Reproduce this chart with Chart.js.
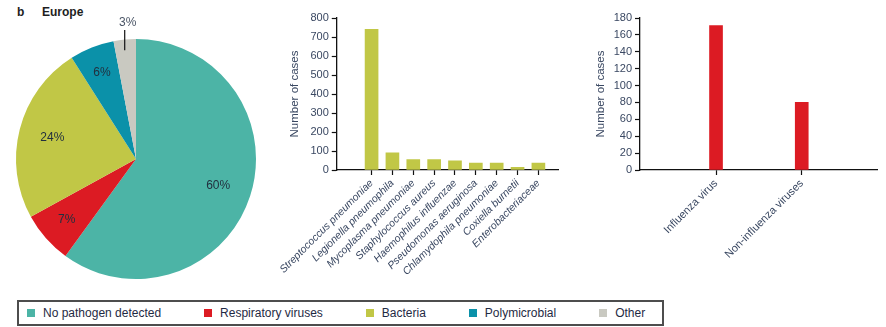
<!DOCTYPE html>
<html>
<head>
<meta charset="utf-8">
<script src="https://cdn.jsdelivr.net/npm/chart.js@4/dist/chart.umd.min.js"></script>
<style>
  html, body { margin: 0; padding: 0; background: #fff; }
  body { width: 886px; height: 327px; position: relative; overflow: hidden;
         font-family: 'Liberation Sans', Arial, sans-serif; }
  .box { position: absolute; }
  .panel { position: absolute; top: 5px; font: bold 12px 'Liberation Sans', Arial, sans-serif; color: #1e1e1e; }
  #legend { position: absolute; left: 17px; top: 300px; width: 647px; height: 26px;
            box-sizing: border-box; border: 2px solid #4d4d4d;
            display: flex; align-items: center; padding-left: 8px; gap: 43px;
            font: 12px 'Liberation Sans', Arial, sans-serif; color: #1f2a44; }
  #legend .item { display: flex; align-items: center; white-space: nowrap; }
  #legend .sw { width: 8px; height: 8px; margin-right: 8px; }
</style>
</head>
<body>
<div class="panel" style="left:17px">b</div>
<div class="panel" style="left:42px">Europe</div>

<div class="box" style="left:0;top:0"><canvas id="pie" width="272" height="300"></canvas></div>
<div class="box" style="left:270px;top:0"><canvas id="bacteria" width="290" height="300"></canvas></div>
<div class="box" style="left:580px;top:0"><canvas id="viruses" width="300" height="300"></canvas></div>
<div id="legend"></div>

<script>
// Aetiology of pneumonia, Europe
const pathogenGroups = ['No pathogen detected', 'Respiratory viruses', 'Bacteria', 'Polymicrobial', 'Other'];
const groupShares = [60, 7, 24, 6, 3];
const groupColors = ['#4cb4a6', '#dc1b23', '#c1c746', '#0b91a9', '#c9c9c1'];

const bacteriaNames = ['Streptococcus pneumoniae', 'Legionella pneumophila', 'Mycoplasma pneumoniae',
  'Staphylococcus aureus', 'Haemophilus influenzae', 'Pseudomonas aeruginosa',
  'Chlamydophila pneumoniae', 'Coxiella burnetii', 'Enterobacteriaceae'];
const bacteriaCases = [740, 90, 55, 55, 48, 36, 36, 14, 36];
const bacteriaTicks = [0, 100, 200, 300, 400, 500, 600, 700, 800];

const virusNames = ['Influenza virus', 'Non-influenza viruses'];
const virusCases = [171, 80];
const virusTicks = [0, 20, 40, 60, 80, 100, 120, 140, 160, 180];

const inkDark = '#22303f';
const tickInk = '#3a4862';

// percentage labels on the slices; small slices get a leader line outside
const sliceLabels = {
  id: 'sliceLabels',
  afterDatasetsDraw(chart) {
    const ctx = chart.ctx;
    const meta = chart.getDatasetMeta(0);
    ctx.save();
    ctx.font = '12px "Liberation Sans", Arial, sans-serif';
    ctx.textAlign = 'center';
    ctx.textBaseline = 'middle';
    meta.data.forEach((arc, i) => {
      const p = arc.getProps(['x', 'y', 'startAngle', 'endAngle', 'outerRadius'], true);
      const mid = (p.startAngle + p.endAngle) / 2;
      const text = groupShares[i] + '%';
      if (groupShares[i] < 5) {
        const lx = p.x + Math.cos(mid) * p.outerRadius;
        const y0 = p.y + Math.sin(mid) * p.outerRadius * 0.91;
        const y1 = p.y - p.outerRadius - 9;
        ctx.strokeStyle = '#111';
        ctx.lineWidth = 1.2;
        ctx.beginPath();
        ctx.moveTo(lx, y0);
        ctx.lineTo(lx, y1);
        ctx.stroke();
        ctx.fillStyle = '#4a5566';
        ctx.fillText(text, lx + 3, y1 - 7);
      } else {
        const f = groupShares[i] < 10 ? 0.77 : 0.72;
        ctx.fillStyle = inkDark;
        ctx.fillText(text, p.x + Math.cos(mid) * p.outerRadius * f, p.y + Math.sin(mid) * p.outerRadius * f);
      }
    });
    ctx.restore();
  }
};

new Chart(document.getElementById('pie'), {
  type: 'pie',
  data: {
    labels: pathogenGroups,
    datasets: [{ data: groupShares, backgroundColor: groupColors, borderWidth: 0, hoverOffset: 0, radius: 120 }]
  },
  options: {
    responsive: false,
    animation: false,
    layout: { padding: { left: 16, right: 16, top: 39, bottom: 21 } },
    plugins: { legend: { display: false }, tooltip: { enabled: false } }
  },
  plugins: [sliceLabels]
});

function caseBars(canvasId, names, values, ticks, color, frame) {
  return new Chart(document.getElementById(canvasId), {
    type: 'bar',
    data: {
      datasets: [{
        data: values.map((v, i) => ({ x: i, y: v })),
        backgroundColor: color,
        borderWidth: 0,
        barThickness: 13
      }]
    },
    options: {
      responsive: false,
      animation: false,
      layout: { padding: { left: frame.padLeft, right: frame.padRight, top: 18, bottom: 0 } },
      plugins: { legend: { display: false }, tooltip: { enabled: false } },
      scales: {
        x: {
          type: 'linear',
          offset: false,
          min: frame.xMin,
          max: frame.xMax,
          afterBuildTicks: s => { s.ticks = names.map((_, i) => ({ value: i })); },
          afterFit: s => { s.height = 130; },
          grid: { offset: false, drawOnChartArea: false, drawTicks: true, tickLength: 5, tickColor: '#111', tickWidth: 1.2 },
          border: { display: true, color: '#111', width: 1.3 },
          ticks: {
            autoSkip: false,
            minRotation: 45,
            maxRotation: 45,
            padding: 2,
            color: tickInk,
            font: { family: "'Liberation Sans', Arial, sans-serif", size: frame.labelSize, style: frame.labelStyle },
            callback: v => names[v]
          }
        },
        y: {
          min: ticks[0],
          max: ticks[ticks.length - 1],
          afterBuildTicks: s => { s.ticks = ticks.map(t => ({ value: t })); },
          afterFit: s => { s.width = frame.yWidth; },
          grid: { drawOnChartArea: false, drawTicks: true, tickLength: 5, tickColor: '#111', tickWidth: 1.2 },
          border: { display: true, color: '#111', width: 1.3 },
          ticks: {
            padding: 3,
            color: tickInk,
            font: { family: "'Liberation Sans', Arial, sans-serif", size: 11 }
          },
          title: {
            display: true,
            text: 'Number of cases',
            color: tickInk,
            padding: { top: 4, bottom: 0 },
            font: { family: "'Liberation Sans', Arial, sans-serif", size: 11.5 }
          }
        }
      }
    }
  });
}

caseBars('bacteria', bacteriaNames, bacteriaCases, bacteriaTicks, groupColors[2],
  { padLeft: 8, padRight: 2, yWidth: 53, xMin: -1.67, xMax: 8.94, labelSize: 10.5, labelStyle: 'italic' });
caseBars('viruses', virusNames, virusCases, virusTicks, groupColors[1],
  { padLeft: 10, padRight: 3, yWidth: 50, xMin: -0.887, xMax: 1.878, labelSize: 11, labelStyle: 'normal' });

// legend for the pie, built from the same groups and colours
const legend = document.getElementById('legend');
pathogenGroups.forEach((g, i) => {
  const item = document.createElement('div');
  item.className = 'item';
  const sw = document.createElement('span');
  sw.className = 'sw';
  sw.style.background = groupColors[i];
  item.appendChild(sw);
  item.appendChild(document.createTextNode(g));
  legend.appendChild(item);
});
</script>
</body>
</html>
